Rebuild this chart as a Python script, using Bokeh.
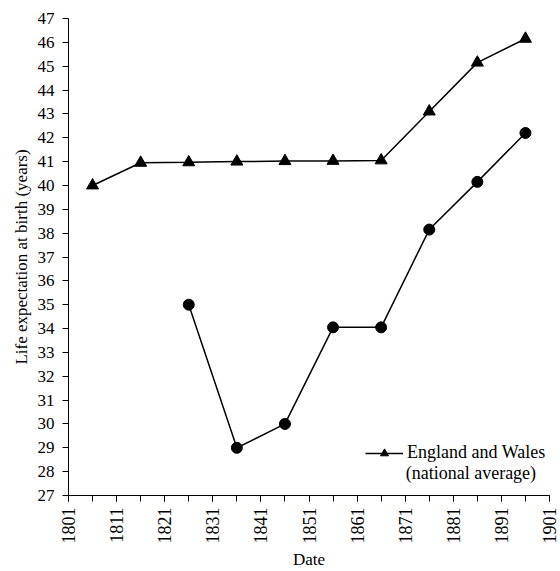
import math
from bokeh.plotting import figure
from bokeh.models import Range1d, FixedTicker, Legend, LegendItem, Label
from bokeh.embed import file_html
from bokeh.resources import INLINE

# England and Wales (national average)
years_ew = [1806, 1816, 1826, 1836, 1846, 1856, 1866, 1876, 1886, 1896]
life_ew = [40.0, 40.95, 40.97, 41.0, 41.02, 41.03, 41.05, 43.1, 45.15, 46.15]

# local series (circles)
years_local = [1826, 1836, 1846, 1856, 1866, 1876, 1886, 1896]
life_local = [35.0, 29.0, 30.0, 34.05, 34.05, 38.15, 40.15, 42.2]

x_major_ticks = list(range(1801, 1902, 10))
x_minor_ticks = list(range(1801, 1902, 5))
y_ticks = list(range(27, 48))

FONT = "Liberation Serif"

p = figure(width=560, height=571, output_backend="svg", toolbar_location=None,
           x_range=Range1d(1801, 1901), y_range=Range1d(27, 47),
           min_border_left=68, min_border_right=11, min_border_top=18, min_border_bottom=75)
p.outline_line_color = None
p.xgrid.visible = False
p.ygrid.visible = False
p.background_fill_color = "white"
p.border_fill_color = "white"

# lines and markers
l_local = p.line(years_local, life_local, line_color="black", line_width=1.5)
s_local = p.scatter(years_local, life_local, marker="circle", size=11,
                    fill_color="black", line_color="black")
l_ew = p.line(years_ew, life_ew, line_color="black", line_width=1.5)
s_ew = p.scatter(years_ew, life_ew, marker="triangle", size=12,
                 fill_color="black", line_color="black")

# axes
p.xaxis.ticker = FixedTicker(ticks=x_major_ticks, minor_ticks=x_minor_ticks)
p.yaxis.ticker = FixedTicker(ticks=y_ticks)
for ax in (p.xaxis, p.yaxis):
    ax.axis_line_color = "black"
    ax.axis_line_width = 1
    ax.major_tick_line_color = "black"
    ax.major_tick_out = 6
    ax.major_tick_in = 0
    ax.major_label_text_font = FONT
    ax.major_label_text_color = "black"
    ax.axis_label_text_font = FONT
    ax.axis_label_text_font_style = "normal"
    ax.axis_label_text_color = "black"
    ax.axis_label_text_font_size = "17px"

p.xaxis.minor_tick_line_color = "black"
p.xaxis.minor_tick_out = 6
p.xaxis.minor_tick_in = 0
p.yaxis.minor_tick_line_color = None

p.xaxis.major_label_orientation = math.pi / 2
p.xaxis.major_label_text_font_size = "18px"
p.xaxis.major_label_standoff = 6
p.xaxis.axis_label = "Date"
p.xaxis.axis_label_standoff = 3

p.yaxis.major_label_text_font_size = "17px"
p.yaxis.major_label_standoff = 8
p.yaxis.axis_label = "Life expectation at birth (years)"
p.yaxis.axis_label_standoff = 4

legend = Legend(items=[LegendItem(label="England and Wales", renderers=[l_ew, s_ew])],
                location=(297, 32), glyph_width=38, glyph_height=20, label_height=20,
                label_standoff=4, padding=0, margin=0, spacing=0,
                border_line_color=None, background_fill_alpha=0,
                label_text_font=FONT, label_text_font_size="18px",
                label_text_color="black")
p.add_layout(legend)

p.add_layout(Label(x=1871.1, y=27.96, text="(national average)", text_font=FONT,
                   text_font_size="18px", text_baseline="middle", text_color="black"))

open("out.html", "w").write(file_html(p, INLINE))
